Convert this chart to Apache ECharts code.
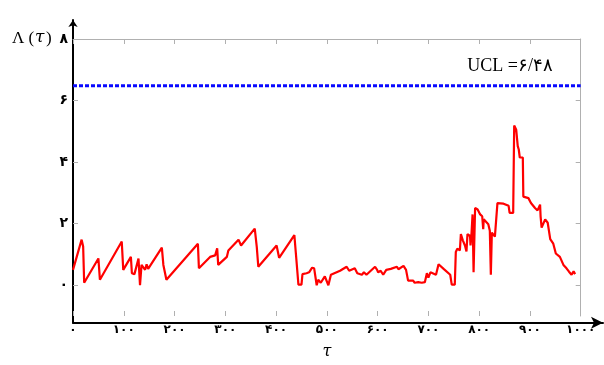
<!DOCTYPE html>
<html><head><meta charset="utf-8">
<script src="https://cdn.jsdelivr.net/npm/echarts@6/dist/echarts.min.js"></script>
<style>html,body{margin:0;padding:0;background:#fff}#c{width:604px;height:365px}</style>
</head><body><div id="c"></div>
<script>
// ---- data ----
var tau = [0,17,20,22,50,53,96,99,114,116,121,129,132,135,142,145,148,175,178,181,184,246,248,270,273,280,284,286,303,306,326,331,358,362,365,401,406,436,439,442,444,450,452,460,465,471,475,480,483,488,496,498,503,508,526,539,544,555,560,569,573,578,595,599,601,606,611,617,626,638,641,651,656,660,670,673,680,687,693,697,700,704,715,720,730,743,746,752,754,757,762,764,768,772,775,777,782,783,785,787,789,792,797,802,806,808,809,818,821,823,825,831,834,836,848,858,860,867,869,873,876,878,880,886,887,897,902,910,915,920,921,923,930,935,940,946,951,959,966,972,977,982,986,989];
var lambda = [0.5,1.48,1.26,0.08,0.87,0.18,1.42,0.5,0.92,0.39,0.36,0.87,0.0,0.66,0.5,0.68,0.53,1.22,0.66,0.6,0.18,1.35,0.55,0.92,0.87,0.97,1.2,0.66,0.92,1.13,1.48,1.29,1.84,1.24,0.6,1.29,0.89,1.63,1.03,1.0,0.02,0.02,0.36,0.39,0.42,0.57,0.55,0.0,0.18,0.08,0.29,0.34,0.0,0.34,0.47,0.6,0.47,0.55,0.39,0.34,0.42,0.34,0.6,0.5,0.42,0.47,0.34,0.5,0.53,0.6,0.52,0.63,0.5,0.15,0.15,0.08,0.1,0.08,0.1,0.39,0.25,0.42,0.34,0.68,0.53,0.34,0.02,0.02,1.08,1.19,1.13,1.66,1.45,1.29,1.1,1.66,1.6,1.29,1.7,2.3,0.42,2.51,2.46,2.3,2.24,1.82,2.14,1.98,1.77,0.34,1.71,1.58,1.56,2.67,2.65,2.58,2.35,2.35,5.19,5.05,4.52,4.41,4.15,4.15,2.88,2.83,2.67,2.51,2.43,2.62,2.24,1.87,2.14,2.03,1.5,1.35,1.03,0.92,0.66,0.55,0.44,0.34,0.45,0.36];
var ucl = 6.48;
var uclRange = [0, 1000];
var xTicks = [0,100,200,300,400,500,600,700,800,900,1000];
var yTicks = [0,2,4,6,8];

function fa(v){ return String(v).replace(/\d/g, function(d){ return '۰۱۲۳۴۵۶۷۸۹'[d]; }); }

var redData = tau.map(function(t,i){ return [t, lambda[i]]; });
var uclData = uclRange.map(function(t){ return [t, ucl]; });

var chart = echarts.init(document.getElementById('c'));
var grey = '#b0b0b0';
chart.setOption({
  animation: false,
  grid: [
    {left: 73, right: 23.3, top: 39, bottom: 42.3},
    {left: 73, right: 1, top: 20, bottom: 42.3}
  ],
  xAxis: [
    {gridIndex: 0, type: 'value', min: 0, max: 1000, interval: 100, position: 'bottom',
     axisLine: {show: false, onZero: false}, splitLine: {show: false},
     axisTick: {show: true, inside: true, length: 5, lineStyle: {color: grey}},
     axisLabel: {margin: 8, color: '#000', fontFamily: 'DejaVu Sans', fontWeight: 'bold', fontSize: 12, formatter: function(v){ return fa(v); }},
     name: 'τ', nameLocation: 'middle', nameGap: 28,
     nameTextStyle: {fontFamily: 'DejaVu Serif', fontStyle: 'italic', fontSize: 16, color: '#000'}},
    {gridIndex: 0, type: 'value', min: 0, max: 1000, interval: 100, position: 'top',
     axisLine: {show: true, onZero: false, lineStyle: {color: grey, width: 1}}, splitLine: {show: false},
     axisTick: {show: true, inside: true, length: 5, lineStyle: {color: grey}},
     axisLabel: {show: false}},
    {gridIndex: 1, type: 'value', min: 0, max: 1000, position: 'bottom',
     axisLine: {show: true, onZero: false, lineStyle: {color: '#000', width: 2}, symbol: ['none', 'arrow'], symbolSize: [9, 12]},
     axisTick: {show: false}, axisLabel: {show: false}, splitLine: {show: false}}
  ],
  yAxis: [
    {gridIndex: 0, type: 'value', min: -1, max: 8, position: 'left',
     axisLine: {show: false, onZero: false}, splitLine: {show: false},
     axisTick: {show: true, inside: true, length: 5, customValues: yTicks, lineStyle: {color: grey}},
     axisLabel: {margin: 5, color: '#000', fontFamily: 'DejaVu Sans', fontWeight: 'bold', fontSize: 14, customValues: yTicks, formatter: function(v){ return fa(v); }}},
    {gridIndex: 0, type: 'value', min: -1, max: 8, position: 'right',
     axisLine: {show: true, onZero: false, lineStyle: {color: grey, width: 1}}, splitLine: {show: false},
     axisTick: {show: true, inside: true, length: 5, customValues: yTicks, lineStyle: {color: grey}},
     axisLabel: {show: false}},
    {gridIndex: 1, type: 'value', min: 0, max: 10, position: 'left',
     axisLine: {show: true, onZero: false, lineStyle: {color: '#000', width: 2}, symbol: ['none', 'arrow'], symbolSize: [7, 7]},
     axisTick: {show: false}, axisLabel: {show: false}, splitLine: {show: false}}
  ],
  series: [
    {type: 'line', xAxisIndex: 0, yAxisIndex: 0, data: uclData, symbol: 'none',
     lineStyle: {color: '#0a0aff', width: 3, type: [4, 2]}, z: 3},
    {type: 'line', xAxisIndex: 0, yAxisIndex: 0, data: redData, symbol: 'none',
     lineStyle: {color: '#ff0000', width: 2.2}, z: 4}
  ],
  graphic: [
    {type: 'text', left: 12, top: 30, style: {text: 'Λ (', font: '17px "Liberation Serif"', fill: '#000'}},
    {type: 'text', left: 35, top: 29, style: {text: 'τ', font: 'italic 17px "DejaVu Serif"', fill: '#000'}},
    {type: 'text', left: 46, top: 30, style: {text: ')', font: '17px "Liberation Serif"', fill: '#000'}},
    {type: 'text', right: 51, top: 57, style: {text: 'UCL =' + fa(String(ucl).replace('.', '/')), font: '18px "Liberation Serif"', fill: '#000'}}
  ]
});
</script></body></html>
